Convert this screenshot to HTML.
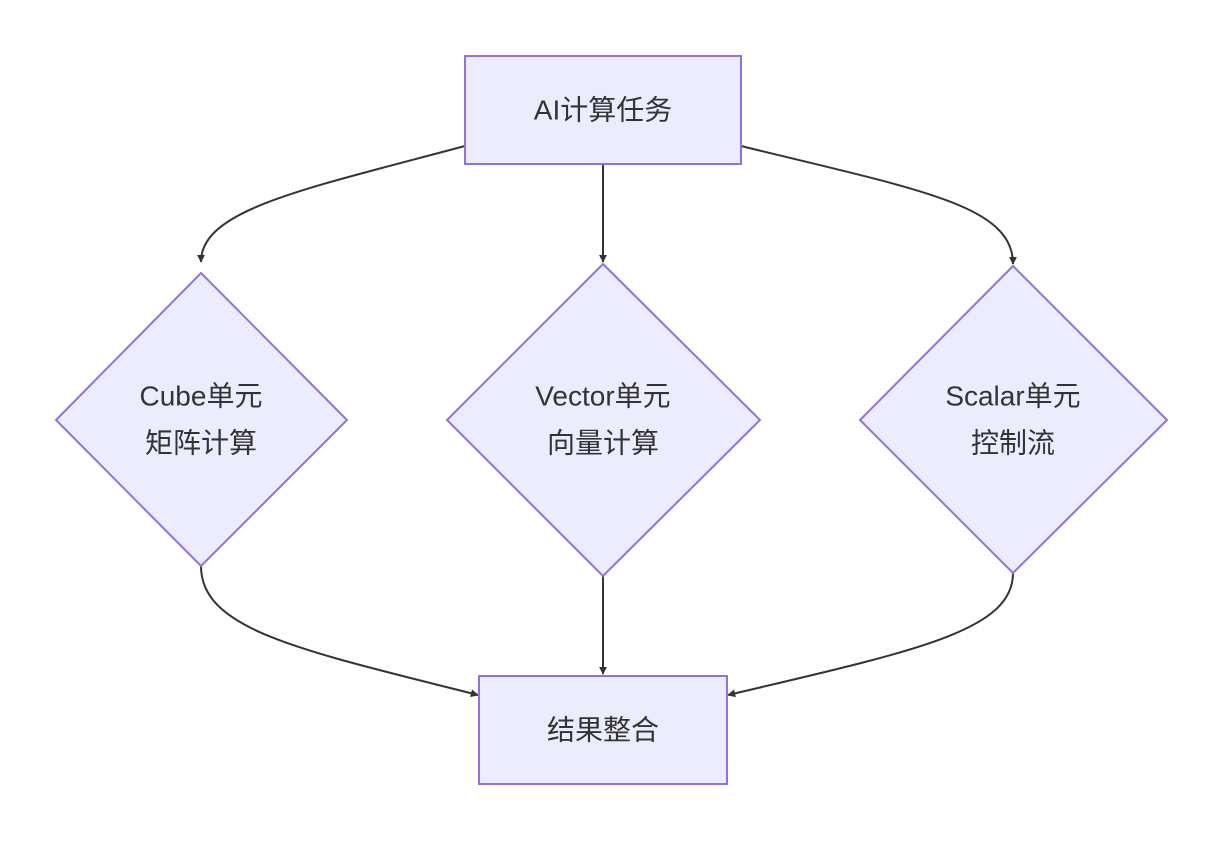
<!DOCTYPE html>
<html><head><meta charset="utf-8">
<style>
html,body{margin:0;padding:0;background:#fff;}
svg text{font-family:"Liberation Sans","Noto Sans CJK SC",sans-serif;font-size:28px;fill:#333;text-anchor:middle;dominant-baseline:central;}
</style></head>
<body>
<svg width="1223" height="840" viewBox="0 0 1223 840" xmlns="http://www.w3.org/2000/svg">
<defs>
<marker id="a" viewBox="0 0 10 10" refX="9" refY="5" markerWidth="8" markerHeight="8" markerUnits="userSpaceOnUse" orient="auto">
<path d="M0,0 L10,5 L0,10 z" fill="#333"/>
</marker>
</defs>
<g fill="none" stroke="#333" stroke-width="2">
<path d="M465,146 C300,190 201,210 201,262" marker-end="url(#a)" transform="translate(0,0)"/>
<path d="M603,164 L603,262" marker-end="url(#a)"/>
<path d="M741,146 C920,190 1013,205 1013,264" marker-end="url(#a)"/>
<path d="M201,566 C201,630 300,650 478,695" marker-end="url(#a)"/>
<path d="M603,576 L603,674" marker-end="url(#a)"/>
<path d="M1013,573 C1013,630 920,650 728,695" marker-end="url(#a)"/>
</g>
<g fill="#ECECFF" stroke="#9370DB" stroke-width="2">
<rect x="465" y="56" width="276" height="108"/>
<rect x="479" y="676" width="248" height="108"/>
<polygon points="201,273 347,420 201,566 56,420"/>
<polygon points="603,264 760,420 603,576 447,420"/>
<polygon points="1013,266 1167,420 1013,573 860,420"/>
</g>
<text x="603" y="110">AI计算任务</text>
<text x="603" y="730">结果整合</text>
<text x="201" y="396">Cube单元</text>
<text x="201" y="443">矩阵计算</text>
<text x="603" y="396">Vector单元</text>
<text x="603" y="443">向量计算</text>
<text x="1013" y="396">Scalar单元</text>
<text x="1013" y="443">控制流</text>
</svg>
</body></html>
